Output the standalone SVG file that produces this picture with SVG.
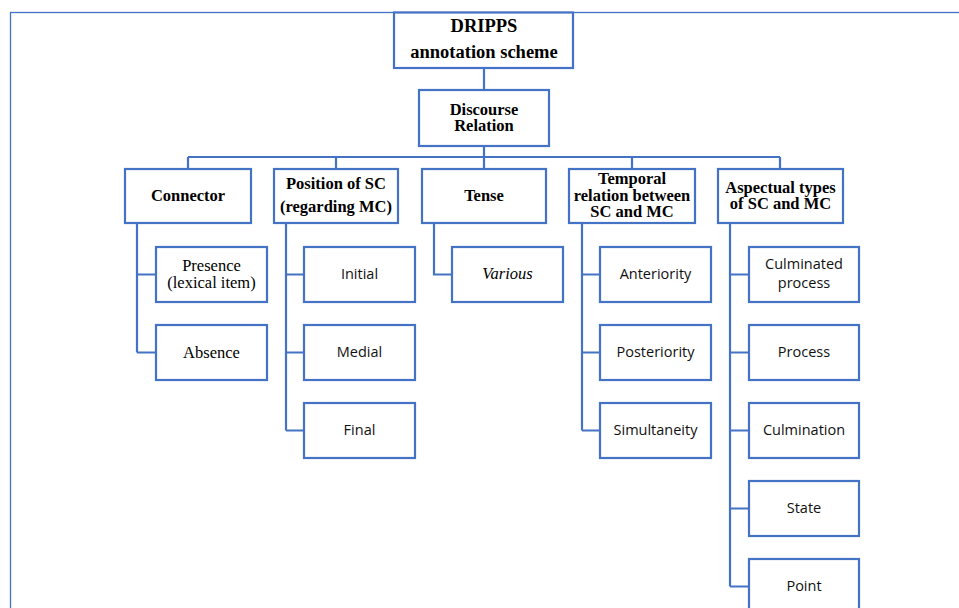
<svg xmlns="http://www.w3.org/2000/svg" width="959" height="608" viewBox="0 0 959 608">
<style>
.box{fill:#fff;stroke:#4472C4;stroke-width:2.2}
.ln{fill:none;stroke:#4472C4;stroke-width:2.2}
.frame{fill:none;stroke:#4472C4;stroke-width:1.3}
.hb{font-family:"Liberation Serif",serif;font-weight:bold;font-size:16.5px;text-anchor:middle;fill:#000}
.top{font-family:"Liberation Serif",serif;font-weight:bold;font-size:18.5px;text-anchor:middle;fill:#000}
.tr{font-family:"Liberation Serif",serif;font-size:16.5px;text-anchor:middle;fill:#000}
.ti{font-family:"Liberation Serif",serif;font-style:italic;font-size:16.5px;text-anchor:middle;fill:#000}
.sn{font-family:"Open Sans",sans-serif;font-size:14.5px;text-anchor:middle;fill:#111}
</style>
<rect class="frame" x="10.5" y="12.5" width="970" height="620"/>
<g id="connectors">
<path class="ln" d="M484 68V90M484 146V157M188 157H780M188 157V169M336 157V169M484 157V169M632 157V169M780 157V169"/>
<path class="ln" d="M137 223V352.5M137 274.5H156M137 352.5H156"/>
<path class="ln" d="M286 223V430.5M286 274.5H304M286 352.5H304M286 430.5H304"/>
<path class="ln" d="M434 223V274.5H452"/>
<path class="ln" d="M582 223V430.5M582 274.5H600M582 352.5H600M582 430.5H600"/>
<path class="ln" d="M730 223V586.5M730 274.5H749M730 352.5H749M730 430.5H749M730 508.5H749M730 586.5H749"/>
</g>
<g id="n-dripps"><rect class="box" x="394" y="12.5" width="179" height="55.5"/><text class="top" x="484" y="32">DRIPPS</text><text class="top" x="484" y="58">annotation scheme</text></g>
<g id="n-discourse"><rect class="box" x="419" y="90" width="130" height="56"/><text class="hb" x="484" y="115">Discourse</text><text class="hb" x="484" y="131">Relation</text></g>
<g id="n-connector"><rect class="box" x="125" y="169" width="126" height="54"/><text class="hb" x="188" y="201">Connector</text></g>
<g id="n-position"><rect class="box" x="274" y="169" width="124" height="54"/><text class="hb" x="336" y="189">Position of SC</text><text class="hb" x="336" y="212">(regarding MC)</text></g>
<g id="n-tense"><rect class="box" x="422" y="169" width="124" height="54"/><text class="hb" x="484" y="201">Tense</text></g>
<g id="n-temporal"><rect class="box" x="569" y="169" width="126" height="54"/><text class="hb" x="632" y="184">Temporal</text><text class="hb" x="632" y="200.5">relation between</text><text class="hb" x="632" y="217">SC and MC</text></g>
<g id="n-aspectual"><rect class="box" x="718" y="169" width="125" height="54"/><text class="hb" x="780.5" y="193">Aspectual types</text><text class="hb" x="780.5" y="209">of SC and MC</text></g>
<g id="n-presence"><rect class="box" x="156" y="247" width="111" height="55"/><text class="tr" x="211.5" y="271">Presence</text><text class="tr" x="211.5" y="288">(lexical item)</text></g>
<g id="n-absence"><rect class="box" x="156" y="325" width="111" height="55"/><text class="tr" x="211.5" y="358">Absence</text></g>
<g id="n-initial"><rect class="box" x="304" y="247" width="111" height="55"/><text class="sn" x="359.5" y="279">Initial</text></g>
<g id="n-medial"><rect class="box" x="304" y="325" width="111" height="55"/><text class="sn" x="359.5" y="357">Medial</text></g>
<g id="n-final"><rect class="box" x="304" y="403" width="111" height="55"/><text class="sn" x="359.5" y="435">Final</text></g>
<g id="n-various"><rect class="box" x="452" y="247" width="111" height="55"/><text class="ti" x="507.5" y="279">Various</text></g>
<g id="n-anteriority"><rect class="box" x="600" y="247" width="111" height="55"/><text class="sn" x="655.5" y="279">Anteriority</text></g>
<g id="n-posteriority"><rect class="box" x="600" y="325" width="111" height="55"/><text class="sn" x="655.5" y="357">Posteriority</text></g>
<g id="n-simultaneity"><rect class="box" x="600" y="403" width="111" height="55"/><text class="sn" x="655.5" y="435">Simultaneity</text></g>
<g id="n-culminated"><rect class="box" x="749" y="247" width="110" height="55"/><text class="sn" x="804" y="269">Culminated</text><text class="sn" x="804" y="288">process</text></g>
<g id="n-process"><rect class="box" x="749" y="325" width="110" height="55"/><text class="sn" x="804" y="357">Process</text></g>
<g id="n-culmination"><rect class="box" x="749" y="403" width="110" height="55"/><text class="sn" x="804" y="435">Culmination</text></g>
<g id="n-state"><rect class="box" x="749" y="481" width="110" height="55"/><text class="sn" x="804" y="513">State</text></g>
<g id="n-point"><rect class="box" x="749" y="559" width="110" height="55"/><text class="sn" x="804" y="591">Point</text></g>
</svg>
